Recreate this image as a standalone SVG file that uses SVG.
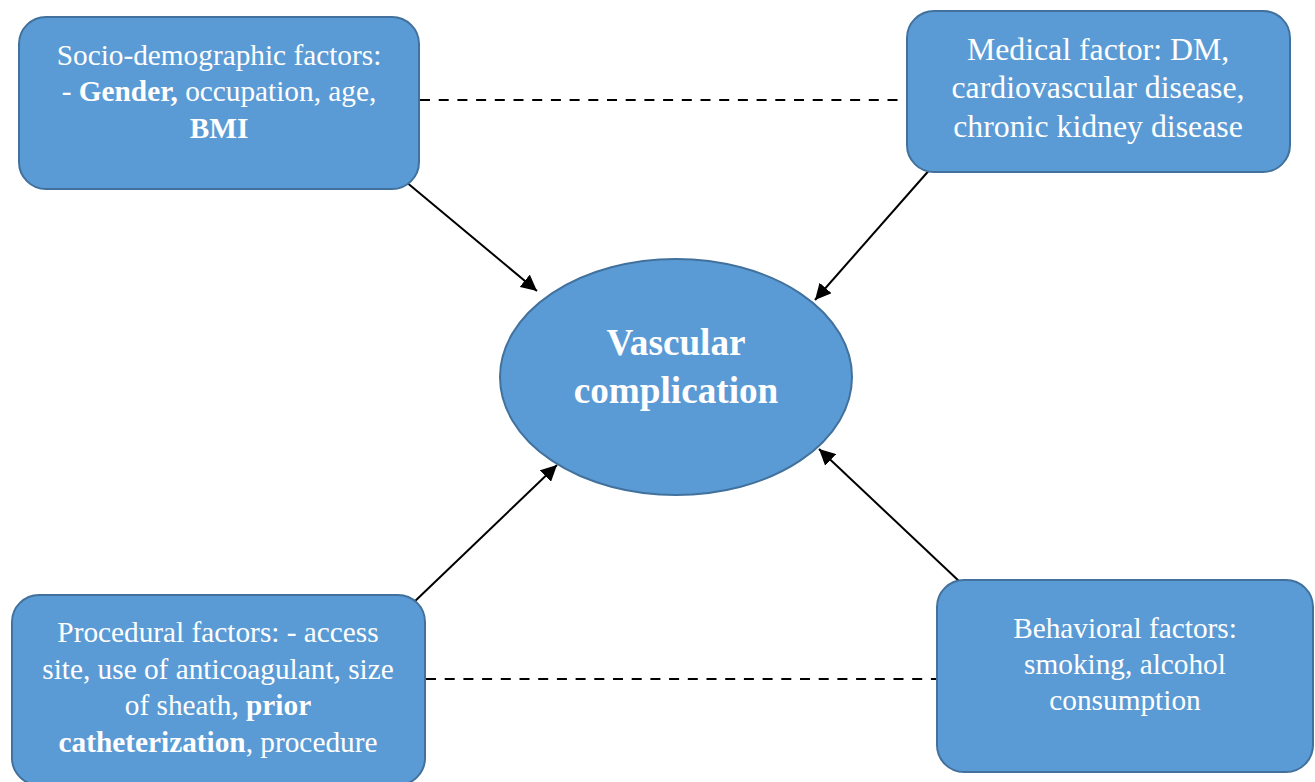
<svg xmlns="http://www.w3.org/2000/svg" width="1315" height="782" viewBox="0 0 1315 782">
<defs>
<style>
.box{fill:#5B9BD5;stroke:#41719C;stroke-width:2}
.t{font-family:"Liberation Serif","Times New Roman",serif;fill:#fff;text-anchor:middle}
.b{font-weight:bold}
.arr{stroke:#000;stroke-width:2;fill:none;marker-end:url(#ah)}
.dash{stroke:#000;stroke-width:2;stroke-dasharray:10 8.7;fill:none}
</style>
<marker id="ah" viewBox="0 0 10 10" refX="10" refY="5" markerWidth="8" markerHeight="8" markerUnits="strokeWidth" orient="auto">
<path d="M0,0 L10,5 L0,10 z" fill="#000"/>
</marker>
</defs>
<rect width="1315" height="782" fill="#fff"/>
<g id="connectors">
<line class="dash" x1="420" y1="100" x2="906" y2="100"/>
<line class="dash" x1="426" y1="679" x2="937" y2="679"/>
<line class="arr" x1="405" y1="181" x2="537" y2="291"/>
<line class="arr" x1="932" y1="167" x2="815" y2="300"/>
<line class="arr" x1="412" y1="604" x2="557" y2="465"/>
<line class="arr" x1="960" y1="582" x2="819" y2="449"/>
</g>
<g id="socio">
<rect class="box" x="19" y="17" width="400" height="172" rx="27"/>
<text class="t" font-size="29.3" x="219" y="65">Socio-demographic factors:</text>
<text class="t" font-size="29.3" x="219" y="101">- <tspan class="b">Gender,</tspan> occupation, age,</text>
<text class="t b" font-size="29.3" x="219" y="138">BMI</text>
</g>
<g id="medical">
<rect class="box" x="907" y="11" width="383" height="161" rx="27"/>
<text class="t" font-size="31.8" x="1098" y="60">Medical factor: DM,</text>
<text class="t" font-size="31.8" x="1098" y="98">cardiovascular disease,</text>
<text class="t" font-size="31.8" x="1098" y="137">chronic kidney disease</text>
</g>
<g id="center">
<ellipse class="box" cx="676" cy="377" rx="176" ry="118"/>
<text class="t b" font-size="37.2" x="676" y="355">Vascular</text>
<text class="t b" font-size="37.2" x="676" y="403">complication</text>
</g>
<g id="procedural">
<rect class="box" x="12" y="595" width="413" height="190" rx="27"/>
<text class="t" font-size="29.3" x="218" y="642">Procedural factors: - access</text>
<text class="t" font-size="29.3" x="218" y="679">site, use of anticoagulant, size</text>
<text class="t" font-size="29.3" x="218" y="715">of sheath, <tspan class="b">prior</tspan></text>
<text class="t" font-size="29.3" x="218" y="752"><tspan class="b">catheterization</tspan>, procedure</text>
</g>
<g id="behavioral">
<rect class="box" x="937" y="580" width="376" height="192" rx="27"/>
<text class="t" font-size="29.3" x="1125" y="638">Behavioral factors:</text>
<text class="t" font-size="29.3" x="1125" y="674">smoking, alcohol</text>
<text class="t" font-size="29.3" x="1125" y="710">consumption</text>
</g>
</svg>
